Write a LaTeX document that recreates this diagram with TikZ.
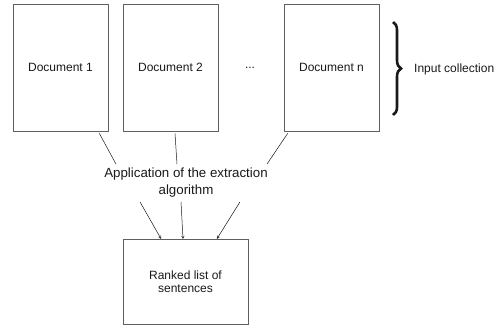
\documentclass[tikz,border=0pt]{standalone}
\usepackage{fontspec}
\setmainfont{Liberation Sans}
\usetikzlibrary{decorations.pathreplacing,arrows.meta}
\definecolor{edge}{RGB}{95,95,95}
\definecolor{ink}{RGB}{25,25,25}
\begin{document}
\begin{tikzpicture}[x=1pt,y=-1pt,
  docbox/.style={draw=edge,line width=0.6pt,minimum width=95pt,minimum height=127pt,inner sep=0pt,
    text=ink,font=\fontsize{12}{14}\selectfont},
  lbl/.style={text=ink,inner sep=0pt,align=center},
  link/.style={draw=ink,line width=0.5pt},
  flow/.style={link,-{To[length=3pt,width=3pt]}}]
\useasboundingbox (0,0) rectangle (500,325);

% input documents
\node[docbox] (d1) at (60.5,67.5) {Document 1};
\node[docbox] (d2) at (170.5,67.5) {Document 2};
\node[lbl,font=\fontsize{12}{14}\selectfont] (dots) at (250,68) {...};
\node[docbox] (dn) at (331.5,67.5) {Document n};

% collection brace and its label
\coordinate (bt) at (393,22);
\coordinate (bb) at (393,115);
\draw[ink,line width=2.6pt,decorate,decoration={brace,amplitude=8pt}] (bt) -- (bb);
\node[lbl,font=\fontsize{12}{14}\selectfont,anchor=west] (coll) at (414,69) {Input collection};

% extraction step
\node[lbl,font=\fontsize{13.3}{17}\selectfont] (app) at (186,183)
  {Application of the extraction\\algorithm};

% output list
\node[docbox,minimum width=125pt,minimum height=85pt,align=center,
  font=\fontsize{12}{13.5}\selectfont] (out) at (185.5,281.5) {Ranked list of\\sentences};

% documents feed the algorithm
\draw[link] ([xshift=-9pt,yshift=-2pt]d1.south east) -- ([xshift=-70pt,yshift=4pt]app.north);
\draw[link] ([xshift=4.5pt,yshift=-2pt]d2.south) -- ([xshift=-9pt,yshift=4pt]app.north);
\draw[link] ([xshift=4pt,yshift=-2pt]dn.south west) -- ([xshift=81pt,yshift=4pt]app.north);

% algorithm produces the ranked list
\draw[flow] ([xshift=-46pt,yshift=-4pt]app.south) -- ([xshift=-24.5pt]out.north);
\draw[flow] ([xshift=-5pt,yshift=-4pt]app.south) -- ([xshift=-2.5pt]out.north);
\draw[flow] ([xshift=54pt,yshift=-4pt]app.south) -- ([xshift=31.5pt]out.north);
\end{tikzpicture}
\end{document}
